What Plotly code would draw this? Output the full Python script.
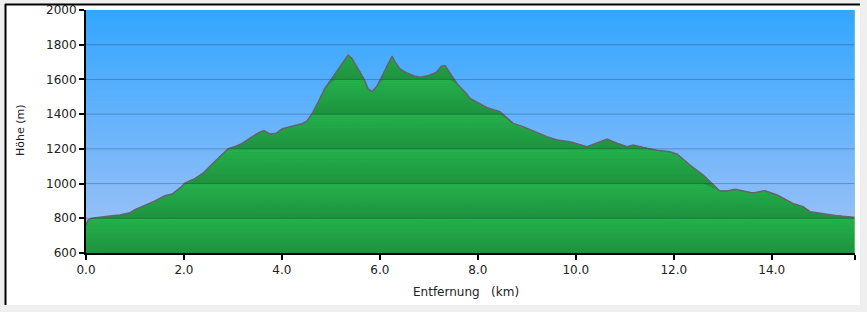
import plotly.graph_objects as go

# Elevation profile data (distance km, elevation m)
dist_km = [0.00, 0.04, 0.12, 0.29, 0.49, 0.69, 0.82, 0.90, 1.00, 1.20, 1.41, 1.61, 1.76, 1.92,
           2.02, 2.23, 2.39, 2.53, 2.74, 2.90, 3.06, 3.18, 3.35, 3.51, 3.63, 3.76, 3.88, 4.00,
           4.21, 4.41, 4.51, 4.61, 4.74, 4.88, 5.08, 5.25, 5.35, 5.43, 5.55, 5.68, 5.76, 5.84,
           5.94, 6.06, 6.17, 6.25, 6.31, 6.41, 6.53, 6.70, 6.82, 6.98, 7.15, 7.25, 7.33, 7.43,
           7.59, 7.76, 7.84, 8.19, 8.45, 8.72, 8.92, 9.41, 9.62, 9.88, 10.23, 10.64, 10.84,
           11.05, 11.17, 11.45, 11.66, 11.92, 12.07, 12.33, 12.60, 12.94, 13.09, 13.25, 13.62,
           13.86, 14.11, 14.43, 14.64, 14.78, 15.05, 15.33, 15.66, 15.70]
elev_m = [760, 790, 800, 807, 813, 819, 825, 832, 850, 873, 900, 930, 940, 975,
          1003, 1030, 1060, 1100, 1160, 1200, 1215, 1230, 1262, 1290, 1305, 1285, 1290, 1315,
          1330, 1345, 1360, 1400, 1470, 1550, 1630, 1700, 1740, 1720, 1660, 1600, 1545, 1530,
          1560, 1625, 1690, 1735, 1700, 1660, 1640, 1620, 1612, 1622, 1640, 1675, 1680, 1640,
          1570, 1520, 1491, 1437, 1414, 1347, 1328, 1270, 1251, 1241, 1212, 1257, 1232,
          1212, 1222, 1203, 1192, 1184, 1169, 1107, 1049, 957, 957, 967, 946,
          959, 934, 886, 867, 838, 825, 815, 806, 805]

x_tickvals = [0, 2, 4, 6, 8, 10, 12, 14, 15.7]
x_ticktext = ["0.0", "2.0", "4.0", "6.0", "8.0", "10.0", "12.0", "14.0", "15.7"]
y_tickvals = [600, 800, 1000, 1200, 1400, 1600, 1800, 2000]

Y_MIN, Y_MAX = 600, 2000
X_MAX = 15.7

fig = go.Figure()

light = (36, 178, 76)
dark = (31, 145, 62)
mid = tuple((light[i] + dark[i]) // 2 for i in range(3))

# base fill under the whole profile
fig.add_trace(go.Scatter(x=dist_km, y=elev_m, mode="lines", line=dict(width=0),
                         fill="tozeroy", fillcolor="rgb(%d,%d,%d)" % mid,
                         hoverinfo="skip", showlegend=False))

# banded gradient strips (chained tonexty)
step = 10
fig.add_trace(go.Scatter(x=dist_km, y=[min(e, Y_MIN) for e in elev_m], mode="lines",
                         line=dict(width=0), hoverinfo="skip", showlegend=False))
for cap in range(Y_MIN + step, 1800 + step, step):
    band_low = ((cap - step - Y_MIN) // 200) * 200 + Y_MIN
    t = (cap - step / 2 - band_low) / 200.0  # 0 bottom, 1 top
    c = tuple(int(round(dark[i] + (light[i] - dark[i]) * t)) for i in range(3))
    yv = [min(e, cap) for e in elev_m]
    fig.add_trace(go.Scatter(x=dist_km, y=yv, mode="lines", line=dict(width=0),
                             fill="tonexty", fillcolor="rgb(%d,%d,%d)" % c,
                             hoverinfo="skip", showlegend=False))

# Outline
fig.add_trace(go.Scatter(x=dist_km, y=elev_m, mode="lines",
                         line=dict(color="rgb(100,100,106)", width=1.5),
                         hoverinfo="skip", showlegend=False))

shapes = []
def px2paper_x(px):
    return (px - 86) / 769.0
def px2paper_y(py):
    return (253 - py) / 243.0

# page panel (white) with black top/left border
shapes.append(dict(type="rect", xref="paper", yref="paper",
                   x0=px2paper_x(5), x1=px2paper_x(860), y0=px2paper_y(305), y1=px2paper_y(4),
                   fillcolor="white", line=dict(width=0), layer="below"))
shapes.append(dict(type="line", xref="paper", yref="paper",
                   x0=px2paper_x(5), x1=px2paper_x(860), y0=px2paper_y(4.5), y1=px2paper_y(4.5),
                   line=dict(color="black", width=2), layer="below"))
shapes.append(dict(type="line", xref="paper", yref="paper",
                   x0=px2paper_x(5.5), x1=px2paper_x(5.5), y0=px2paper_y(305), y1=px2paper_y(4),
                   line=dict(color="black", width=2), layer="below"))

# sky gradient (overlapping rects to avoid seams)
top = (50, 166, 255)
bot = (165, 195, 246)
nb = 70
for i in range(nb):
    y0 = Y_MIN + (Y_MAX - Y_MIN) * i / nb
    t = (i + 0.5) / nb
    c = tuple(int(round(bot[k] + (top[k] - bot[k]) * t)) for k in range(3))
    shapes.append(dict(type="rect", xref="x", yref="y", x0=0, x1=X_MAX, y0=y0, y1=Y_MAX,
                       fillcolor="rgb(%d,%d,%d)" % c, line=dict(width=0), layer="below"))

# gridlines above
for yv in [800, 1000, 1200, 1400, 1600, 1800]:
    shapes.append(dict(type="line", xref="x", yref="y", x0=0, x1=X_MAX, y0=yv, y1=yv,
                       line=dict(color="rgba(10,30,60,0.28)", width=1), layer="above"))
# right edge light green line
shapes.append(dict(type="line", xref="x", yref="y", x0=X_MAX, x1=X_MAX, y0=Y_MIN, y1=Y_MAX,
                   line=dict(color="rgb(140,220,140)", width=1), layer="above"))

font = dict(family="DejaVu Sans, Verdana, sans-serif", size=12, color="#222")

fig.update_layout(
    width=867, height=312,
    margin=dict(l=86, r=12, t=10, b=59),
    paper_bgcolor="#efefef",
    plot_bgcolor="rgba(0,0,0,0)",
    font=font,
    shapes=shapes,
    xaxis=dict(range=[0, X_MAX], tickvals=x_tickvals, ticktext=x_ticktext, automargin=False,
               showgrid=False, zeroline=False, showline=True, linecolor="black", linewidth=2,
               ticks="outside", ticklen=5, tickwidth=2, tickcolor="black", tickfont=font),
    yaxis=dict(range=[Y_MIN, Y_MAX], tickvals=y_tickvals, automargin=False,
               showgrid=False, zeroline=False, showline=True, linecolor="black", linewidth=2,
               ticks="outside", ticklen=5, tickwidth=2, tickcolor="black", tickfont=font),
    annotations=[
        dict(text="Höhe (m)", xref="paper", yref="paper", x=px2paper_x(20), y=px2paper_y(130),
             textangle=-90, showarrow=False, xanchor="center", yanchor="middle",
             font=dict(family="DejaVu Sans, Verdana, sans-serif", size=11, color="#222")),
        dict(text="Entfernung\u00a0\u00a0\u00a0(km)", xref="paper", yref="paper",
             x=px2paper_x(466), y=px2paper_y(292), showarrow=False,
             xanchor="center", yanchor="middle", font=font),
    ],
)

fig.write_html("out.html")
